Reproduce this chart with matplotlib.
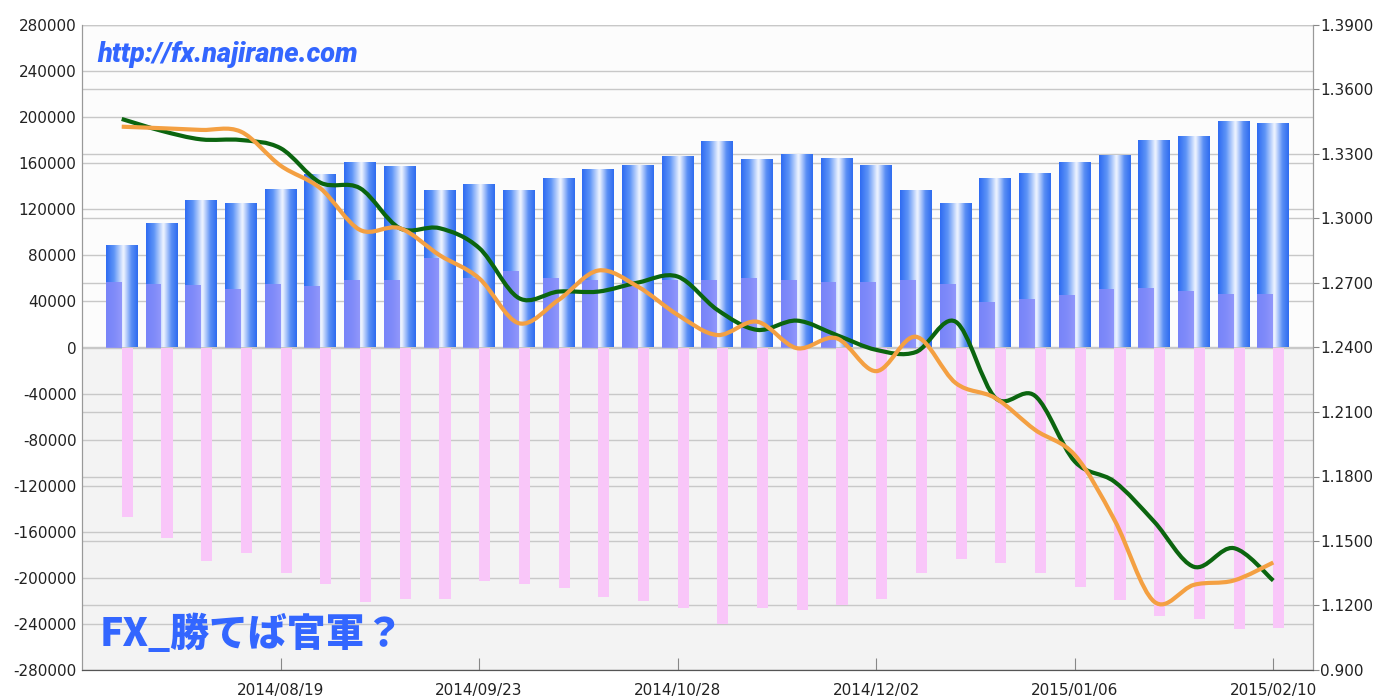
import numpy as np
import pandas as pd
import matplotlib
matplotlib.use('Agg')
import matplotlib.pyplot as plt
from matplotlib.path import Path
from matplotlib.patches import PathPatch
from matplotlib.colors import LinearSegmentedColormap
from matplotlib.transforms import blended_transform_factory

# weekly data, 2014/07/22 .. 2015/02/10
weeks = pd.date_range('2014-07-22', periods=30, freq='7D').strftime('%Y/%m/%d').tolist()

long_total = [88000, 107000, 127500, 125000, 137000, 149500, 160000, 156500, 136000, 141000,
              136000, 146000, 154000, 158000, 165000, 178500, 162500, 167500, 164000, 158000,
              136000, 125000, 146000, 150500, 160000, 166000, 179500, 183000, 195500, 194000]
long_inner = [57000, 55000, 54000, 50500, 55000, 53000, 59000, 59000, 78000, 60000,
              66000, 60000, 59000, 56000, 59000, 59000, 60000, 58500, 56500, 56500,
              58500, 55000, 39500, 42000, 46000, 50500, 51500, 49000, 46500, 46500]
short_total = [-147500, -165800, -185200, -178000, -196000, -205500, -221000, -218000, -218000, -203000,
               -205500, -208500, -216500, -220300, -225800, -239700, -225800, -227500, -223800, -218000,
               -195700, -183800, -187500, -195700, -207800, -218800, -233000, -236000, -244000, -243200]
rate_green = [1.3463, 1.3408, 1.3368, 1.3365, 1.3327, 1.3167, 1.3141, 1.2955, 1.2955, 1.2863,
              1.2630, 1.2660, 1.2660, 1.2702, 1.2730, 1.2575, 1.2482, 1.2525, 1.2458, 1.2389,
              1.2379, 1.2520, 1.2166, 1.2175, 1.1870, 1.1776, 1.1590, 1.1380, 1.1467, 1.1316]
rate_orange = [1.3427, 1.3420, 1.3412, 1.3404, 1.3246, 1.3141, 1.2947, 1.2955, 1.2830, 1.2722,
               1.2513, 1.2621, 1.2758, 1.2683, 1.2552, 1.2458, 1.2520, 1.2397, 1.2443, 1.2290,
               1.2450, 1.2235, 1.2165, 1.2017, 1.1900, 1.1598, 1.1218, 1.1296, 1.1316, 1.1400]

left_ticks = list(range(-280000, 280001, 40000))
right_ticks = [1.09, 1.12, 1.15, 1.18, 1.21, 1.24, 1.27, 1.30, 1.33, 1.36, 1.39]
right_labels = ['0.900'] + ['%.4f' % v for v in right_ticks[1:]]
tick_idx = [4, 9, 14, 19, 24, 29]


def smooth_path(xs, ys):
    # catmull-rom through the points, as cubic bezier segments
    p = np.column_stack([xs, ys]).astype(float)
    ext = np.vstack([p[0], p, p[-1]])
    verts = [p[0]]
    codes = [Path.MOVETO]
    for i in range(len(p) - 1):
        p0, p1, p2, p3 = ext[i], ext[i + 1], ext[i + 2], ext[i + 3]
        verts += [p1 + (p2 - p0) / 6, p2 - (p3 - p1) / 6, p2]
        codes += [Path.CURVE4] * 3
    return Path(verts, codes)


fig = plt.figure(figsize=(13.75, 6.98), dpi=100)
ax1 = fig.add_axes([82 / 1375, 28 / 698, 1231 / 1375, 645 / 698])
ax2 = ax1.twinx()

x = np.arange(len(weeks))

# background: lighter above zero, grey below
ax1.axhspan(0, 280000, color='#fcfcfc', zorder=0)
ax1.axhspan(-280000, 0, color='#f3f3f3', zorder=0)

for v in left_ticks:
    ax1.axhline(v, color='#c8c8c8', lw=1, zorder=0.5)
ax2.set_ylim(1.09, 1.39)
tr = blended_transform_factory(ax1.transAxes, ax2.transData)
for v in right_ticks:
    ax1.plot([0, 1], [v, v], color='#c8c8c8', lw=1, transform=tr, zorder=0.5)

bar_cmap = LinearSegmentedColormap.from_list(
    'bar', [(0, '#2f6cf2'), (0.25, '#5f95f7'), (0.55, '#f2f6ff'), (0.8, '#5a8ff5'), (1, '#2f6cef')])
grad = np.linspace(0, 1, 64).reshape(1, -1)
bw = 0.8
for i, h in enumerate(long_total):
    ax1.imshow(grad, cmap=bar_cmap, aspect='auto', interpolation='bicubic',
               extent=(i - bw / 2, i + bw / 2, 0, h), zorder=2)
ax1.bar(x - bw / 4, long_inner, width=bw / 2, color='#8589fa', alpha=0.85, zorder=3)
ax1.bar(x + 0.14, short_total, width=0.28, color='#f9c6f9', zorder=2)
ax1.set_xlim(-1, 30)
ax1.set_ylim(-280000, 280000)

ax2.add_patch(PathPatch(smooth_path(x, rate_green), fill=False, edgecolor='#0b650f', lw=3,
                        capstyle='butt', zorder=4))
ax2.add_patch(PathPatch(smooth_path(x, rate_orange), fill=False, edgecolor='#f4a042', lw=3,
                        capstyle='butt', zorder=5))

ax1.set_yticks(left_ticks)
ax1.set_yticklabels([str(v) for v in left_ticks])
ax1.set_xticks(tick_idx)
ax1.set_xticklabels([weeks[i] for i in tick_idx])
ax1.tick_params(axis='x', direction='in', length=9, color='#888888', labelsize=11,
                labelcolor='#222222', pad=-2)
ax1.tick_params(axis='y', length=0, labelsize=11, labelcolor='#222222', pad=4)
for lab in ax1.get_xticklabels():
    lab.set_y(-0.025)

ax2.set_yticks(right_ticks)
ax2.set_yticklabels(right_labels)
ax2.tick_params(axis='y', direction='out', length=4, color='#888888', labelsize=11,
                labelcolor='#222222', pad=1)

for ax in (ax1, ax2):
    ax.spines['top'].set_visible(False)
    ax.spines['left'].set_color('#999999')
    ax.spines['right'].set_color('#999999')
    ax.spines['bottom'].set_color('#555555')

ax1.text(0.012, 0.955, 'http://fx.najirane.com', transform=ax1.transAxes,
         family=['Roboto', 'DejaVu Sans'], fontweight='black', fontstyle='italic',
         fontsize=19.5, color='#3366ff', va='center', ha='left', zorder=6)
ax1.text(0.014, 0.055, 'FX_勝てば官軍？', transform=ax1.transAxes,
         family=['Noto Sans CJK JP', 'DejaVu Sans'], fontweight='black',
         fontsize=28, color='#3366ff', va='center', ha='left', zorder=6)

fig.savefig('out.png', dpi=100, facecolor='white')
